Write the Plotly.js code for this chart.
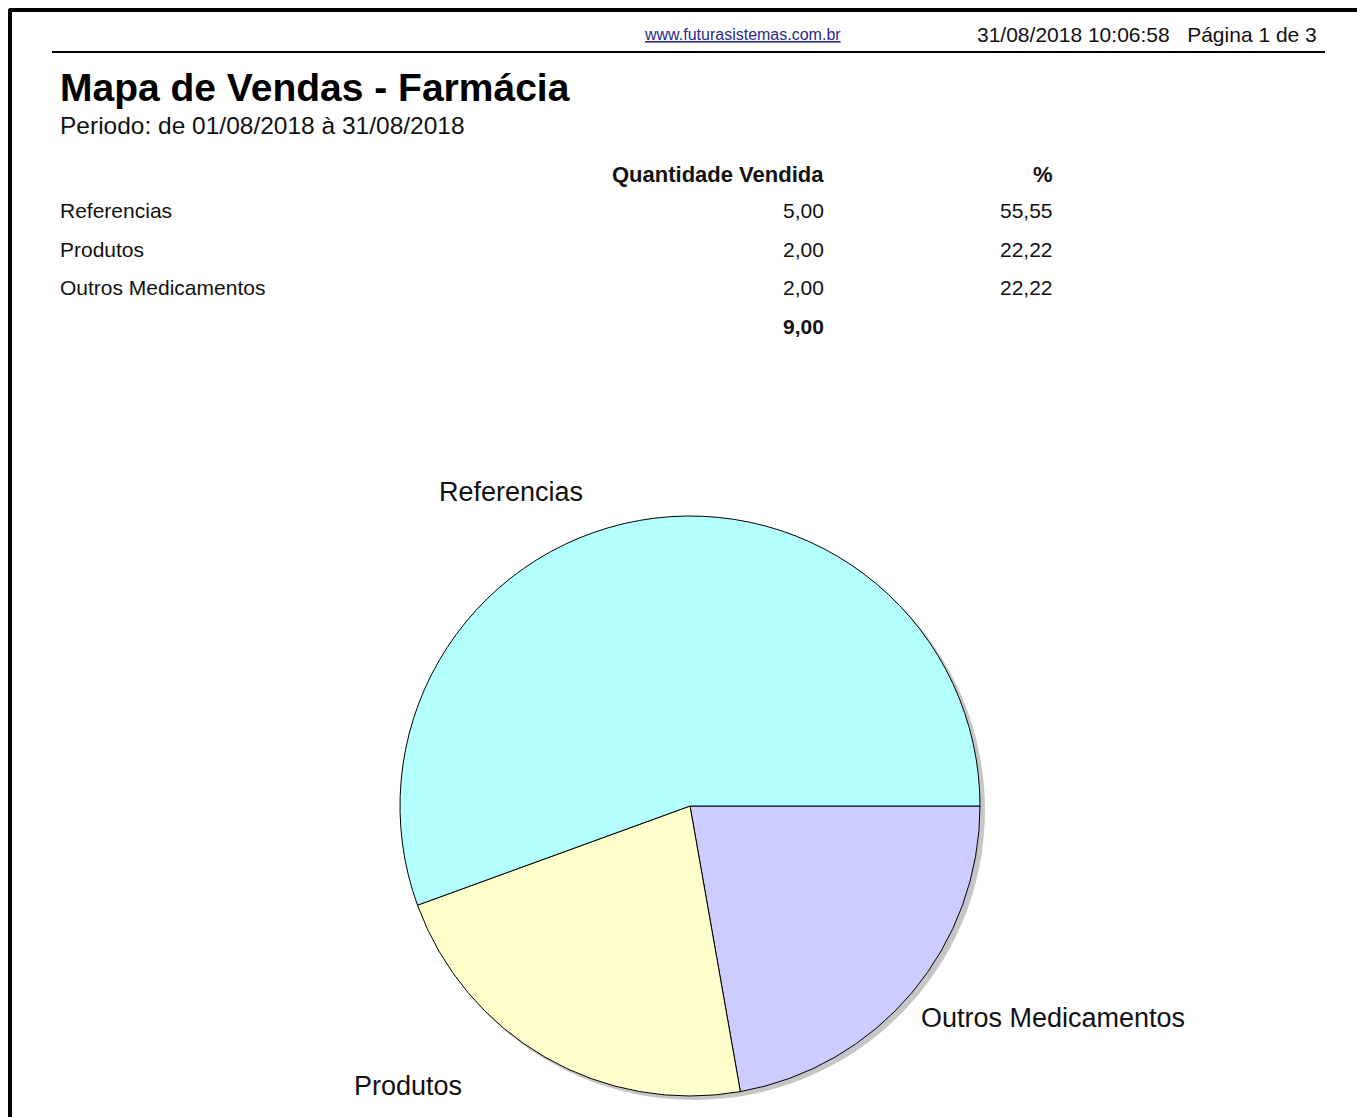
<!DOCTYPE html>
<html>
<head>
<meta charset="utf-8">
<script src="https://cdn.plot.ly/plotly-3.0.1.min.js"></script>
<style>html,body{margin:0;padding:0;background:#fff;}#chart{width:1357px;height:1117px;}</style>
</head>
<body>
<div id="chart"></div>
<script>
// ---- data ----
const categories = ["Referencias", "Produtos", "Outros Medicamentos"];
const quantities = [5, 2, 2];
const percents = [55.55, 22.22, 22.22];
const totalQty = 9;
const sliceColors = ["#b3ffff", "#ffffcc", "#ccccff"];
const reportTitle = "Mapa de Vendas - Farmácia";
const periodText = "Periodo: de 01/08/2018 à 31/08/2018";
const siteText = "www.futurasistemas.com.br";
const stampText = "31/08/2018 10:06:58   Página 1 de 3";
const colQty = "Quantidade Vendida";
const colPct = "%";

// ---- layout helpers ----
const W = 1357, H = 1117;
const px = x => x / W;
const py = y => 1 - y / H;
const fmt = v => v.toFixed(2).replace('.', ',');
const FONT = "Liberation Sans, Arial, sans-serif";

const ann = [];
function txt(text, x, y, size, anchor, opts) {
  ann.push(Object.assign({
    text: text, xref: 'paper', yref: 'paper', x: px(x), y: py(y),
    xanchor: anchor || 'left', yanchor: 'middle', showarrow: false,
    font: {family: FONT, size: size, color: '#111'}
  }, opts || {}));
}

// header
txt('<u>' + siteText + '</u>', 742, 35, 16, 'center', {font: {family: FONT, size: 16, color: '#2a2a8a'}});
txt(stampText, 1319, 35, 21, 'right');
txt('<b>' + reportTitle + '</b>', 58, 87, 39, 'left', {font: {family: FONT, size: 39, color: '#000'}});
txt(periodText, 58, 125, 24.5, 'left');

// table
const rowY = [210, 249, 288];
txt('<b>' + colQty + '</b>', 826, 175, 22, 'right');
txt('<b>' + colPct + '</b>', 1055, 175, 22, 'right');
categories.forEach((c, i) => {
  txt(c, 58, rowY[i], 21, 'left');
  txt(fmt(quantities[i]), 826, rowY[i], 21, 'right');
  txt(fmt(percents[i]), 1055, rowY[i], 21, 'right');
});
txt('<b>' + fmt(totalQty) + '</b>', 826, 326, 21, 'right');

// pie labels
const labelPos = [[511, 492], [408, 1086], [1053, 1018]];
categories.forEach((c, i) => {
  txt(c, labelPos[i][0], labelPos[i][1], 27, 'center', {font: {family: FONT, size: 27, color: '#111'}});
});

const shapes = [
  // page border
  {type: 'line', xref: 'paper', yref: 'paper', x0: px(9), x1: px(1357), y0: py(10), y1: py(10), line: {color: '#000', width: 4}},
  {type: 'line', xref: 'paper', yref: 'paper', x0: px(10), x1: px(10), y0: py(9), y1: py(1117), line: {color: '#000', width: 4}},
  // header rule
  {type: 'line', xref: 'paper', yref: 'paper', x0: px(52), x1: px(1325), y0: py(52), y1: py(52), line: {color: '#000', width: 2}},
  // pie shadow
  {type: 'circle', xref: 'paper', yref: 'paper', layer: 'below', x0: px(403), x1: px(985), y0: py(520), y1: py(1100), fillcolor: '#b8b8b8', line: {width: 0}, opacity: 0.8}
];

// slices drawn clockwise from 3 o'clock, so feed them in reverse order
const order = categories.map((_, i) => i).reverse();
const trace = {
  type: 'pie',
  labels: order.map(i => categories[i]),
  values: order.map(i => quantities[i]),
  sort: false,
  direction: 'clockwise',
  rotation: 90,
  textinfo: 'none',
  hoverinfo: 'label+value+percent',
  automargin: false,
  showlegend: false,
  marker: {colors: order.map(i => sliceColors[i]), line: {color: '#000', width: 1}},
  domain: {x: [px(400), px(980)], y: [py(1096), py(516)]}
};

Plotly.newPlot('chart', [trace], {
  width: W, height: H,
  margin: {l: 0, r: 0, t: 0, b: 0},
  paper_bgcolor: '#fff',
  showlegend: false,
  annotations: ann,
  shapes: shapes
}, {displayModeBar: false, staticPlot: true});
</script>
</body>
</html>
